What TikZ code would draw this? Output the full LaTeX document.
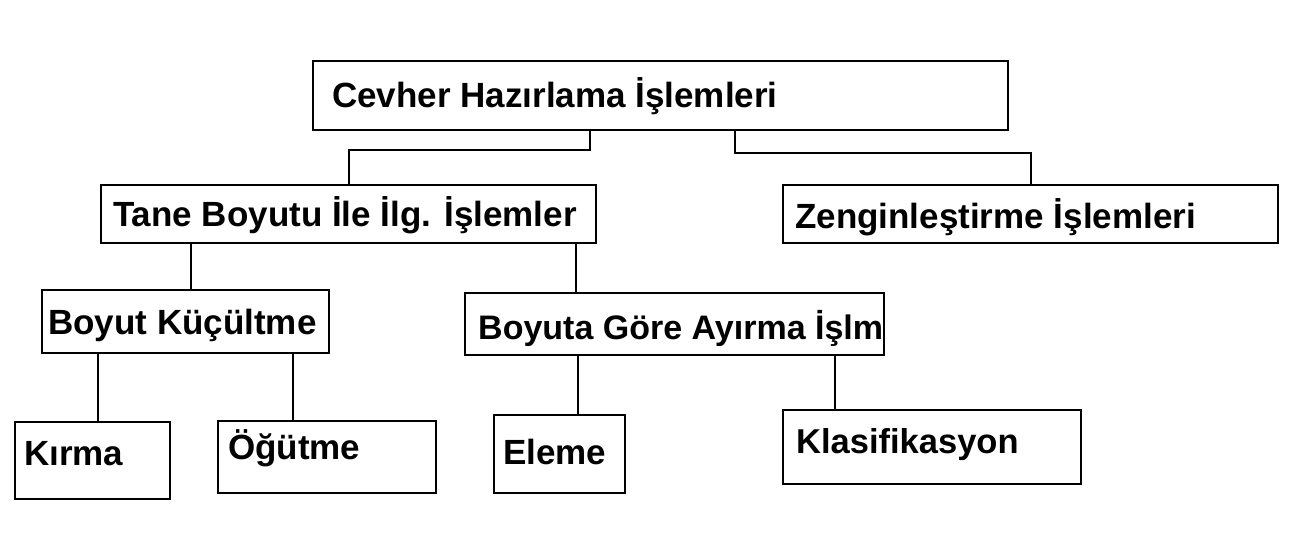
\documentclass[tikz,border=0pt]{standalone}
\usepackage{fontspec}
\setmainfont{Liberation Sans}
\begin{document}
\begin{tikzpicture}[x=1pt,y=-1pt,
  box/.style={draw=black,line width=2pt,rectangle,inner sep=0pt,anchor=north west},
  lbl/.style={anchor=base west,inner sep=0pt,font=\fontsize{35}{40}\selectfont\bfseries},
  conn/.style={draw=black,line width=2pt}]
\useasboundingbox (0,0) rectangle (1290,546);
% boxes
\node[box,minimum width=695pt,minimum height=69pt] (cev) at (312,60) {};
\node[box,minimum width=495pt,minimum height=58pt] (tane) at (100,184) {};
\node[box,minimum width=495pt,minimum height=58pt] (zen) at (782,184) {};
\node[box,minimum width=287pt,minimum height=63pt] (bk) at (41,289) {};
\node[box,minimum width=419pt,minimum height=62pt] (bg) at (464,292) {};
\node[box,minimum width=155pt,minimum height=77pt] (kir) at (14,421) {};
\node[box,minimum width=218pt,minimum height=72pt] (ogu) at (217,420) {};
\node[box,minimum width=131pt,minimum height=78pt] (ele) at (493,414) {};
\node[box,minimum width=298pt,minimum height=74pt] (kla) at (782,409) {};
% labels
\node[lbl] (tcev) at (332,107) {Cevher Hazırlama İşlemleri};
\node[lbl] (ttane) at (113,226) {Tane Boyutu İle İlg. İşlemler};
\node[lbl] (tzen) at (795,228) {Zenginleştirme İşlemleri};
\node[lbl] (tbk) at (48,334) {Boyut Küçültme};
\node[lbl,font=\fontsize{34}{40}\selectfont\bfseries] (tbg) at (478,339) {Boyuta Göre Ayırma İşlm};
\node[lbl] (tkir) at (24,465) {Kırma};
\node[lbl] (togu) at (228,459) {Öğütme};
\node[lbl] (tele) at (503,464) {Eleme};
\node[lbl,font=\fontsize{34.5}{40}\selectfont\bfseries] (tkla) at (796,453) {Klasifikasyon};
% connector coordinates
\coordinate (j1) at (590,150);
\coordinate (j2) at (735,153);
\coordinate (c1) at (191,0);
\coordinate (c2) at (576,0);
\coordinate (c3) at (98,0);
\coordinate (c4) at (293,0);
\coordinate (c5) at (578,0);
\coordinate (c6) at (835,0);
% connectors
\draw[conn] (cev.south -| j1) -- (j1) -| (tane.north);
\draw[conn] (cev.south -| j2) -- (j2) -| (zen.north);
\draw[conn] (tane.south -| c1) -- (bk.north -| c1);
\draw[conn] (tane.south -| c2) -- (bg.north -| c2);
\draw[conn] (bk.south -| c3) -- (kir.north -| c3);
\draw[conn] (bk.south -| c4) -- (ogu.north -| c4);
\draw[conn] (bg.south -| c5) -- (ele.north -| c5);
\draw[conn] (bg.south -| c6) -- (kla.north -| c6);
\end{tikzpicture}
\end{document}
